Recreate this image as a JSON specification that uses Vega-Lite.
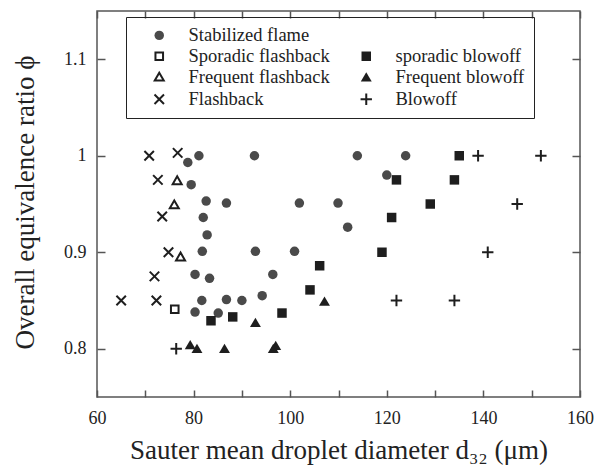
{
  "$schema": "https://vega.github.io/schema/vega-lite/v6.json",
  "width": 483,
  "height": 386,
  "autosize": {"type": "none"},
  "padding": {"left": 97, "top": 11, "right": 23, "bottom": 71},
  "background": "white",
  "config": {
    "view": {"stroke": "#555", "strokeWidth": 1.5},
    "axis": {
      "labelFont": "Liberation Serif",
      "titleFont": "Liberation Serif",
      "labelFontSize": 18,
      "titleFontSize": 27,
      "titleFontWeight": "normal",
      "labelColor": "#222",
      "titleColor": "#222",
      "grid": false,
      "domain": false,
      "labelFlush": false
    }
  },
  "data": {
    "values": [
      {"d": 81.1, "phi": 1.0, "s": "Stabilized flame"},
      {"d": 92.6, "phi": 1.0, "s": "Stabilized flame"},
      {"d": 78.8, "phi": 0.993, "s": "Stabilized flame"},
      {"d": 79.5, "phi": 0.970, "s": "Stabilized flame"},
      {"d": 82.6, "phi": 0.953, "s": "Stabilized flame"},
      {"d": 86.8, "phi": 0.951, "s": "Stabilized flame"},
      {"d": 82.0, "phi": 0.936, "s": "Stabilized flame"},
      {"d": 82.8, "phi": 0.918, "s": "Stabilized flame"},
      {"d": 81.8, "phi": 0.901, "s": "Stabilized flame"},
      {"d": 92.8, "phi": 0.901, "s": "Stabilized flame"},
      {"d": 80.3, "phi": 0.877, "s": "Stabilized flame"},
      {"d": 83.3, "phi": 0.873, "s": "Stabilized flame"},
      {"d": 81.7, "phi": 0.850, "s": "Stabilized flame"},
      {"d": 86.8, "phi": 0.851, "s": "Stabilized flame"},
      {"d": 90.0, "phi": 0.850, "s": "Stabilized flame"},
      {"d": 94.2, "phi": 0.855, "s": "Stabilized flame"},
      {"d": 80.3, "phi": 0.838, "s": "Stabilized flame"},
      {"d": 85.1, "phi": 0.837, "s": "Stabilized flame"},
      {"d": 101.9, "phi": 0.951, "s": "Stabilized flame"},
      {"d": 109.9, "phi": 0.951, "s": "Stabilized flame"},
      {"d": 113.9, "phi": 1.0, "s": "Stabilized flame"},
      {"d": 111.9, "phi": 0.926, "s": "Stabilized flame"},
      {"d": 100.9, "phi": 0.901, "s": "Stabilized flame"},
      {"d": 96.4, "phi": 0.877, "s": "Stabilized flame"},
      {"d": 123.9, "phi": 1.0, "s": "Stabilized flame"},
      {"d": 120.0, "phi": 0.980, "s": "Stabilized flame"},
      {"d": 76.1, "phi": 0.841, "s": "Sporadic flashback"},
      {"d": 76.6, "phi": 0.974, "s": "Frequent flashback"},
      {"d": 76.0, "phi": 0.949, "s": "Frequent flashback"},
      {"d": 77.3, "phi": 0.895, "s": "Frequent flashback"},
      {"d": 70.8, "phi": 1.0, "s": "Flashback"},
      {"d": 76.7, "phi": 1.003, "s": "Flashback"},
      {"d": 72.6, "phi": 0.975, "s": "Flashback"},
      {"d": 73.5, "phi": 0.937, "s": "Flashback"},
      {"d": 74.8, "phi": 0.9, "s": "Flashback"},
      {"d": 71.9, "phi": 0.875, "s": "Flashback"},
      {"d": 65.0, "phi": 0.85, "s": "Flashback"},
      {"d": 72.3, "phi": 0.85, "s": "Flashback"},
      {"d": 83.6, "phi": 0.829, "s": "sporadic blowoff"},
      {"d": 88.1, "phi": 0.833, "s": "sporadic blowoff"},
      {"d": 98.3, "phi": 0.837, "s": "sporadic blowoff"},
      {"d": 104.1, "phi": 0.861, "s": "sporadic blowoff"},
      {"d": 106.1, "phi": 0.886, "s": "sporadic blowoff"},
      {"d": 135.0, "phi": 1.0, "s": "sporadic blowoff"},
      {"d": 122.0, "phi": 0.975, "s": "sporadic blowoff"},
      {"d": 134.0, "phi": 0.975, "s": "sporadic blowoff"},
      {"d": 129.0, "phi": 0.95, "s": "sporadic blowoff"},
      {"d": 121.0, "phi": 0.936, "s": "sporadic blowoff"},
      {"d": 119.0, "phi": 0.9, "s": "sporadic blowoff"},
      {"d": 79.3, "phi": 0.804, "s": "Frequent blowoff"},
      {"d": 80.7, "phi": 0.8, "s": "Frequent blowoff"},
      {"d": 86.4, "phi": 0.8, "s": "Frequent blowoff"},
      {"d": 92.8, "phi": 0.827, "s": "Frequent blowoff"},
      {"d": 107.1, "phi": 0.849, "s": "Frequent blowoff"},
      {"d": 96.5, "phi": 0.8, "s": "Frequent blowoff"},
      {"d": 97.0, "phi": 0.803, "s": "Frequent blowoff"},
      {"d": 76.4, "phi": 0.8, "s": "Blowoff"},
      {"d": 138.9, "phi": 1.0, "s": "Blowoff"},
      {"d": 151.9, "phi": 1.0, "s": "Blowoff"},
      {"d": 147.0, "phi": 0.95, "s": "Blowoff"},
      {"d": 140.9, "phi": 0.9, "s": "Blowoff"},
      {"d": 122.0, "phi": 0.85, "s": "Blowoff"},
      {"d": 134.0, "phi": 0.85, "s": "Blowoff"}
    ]
  },
  "layer": [
    {
      "mark": {"type": "point", "opacity": 1, "strokeWidth": 2, "size": 90},
      "encoding": {
        "x": {
          "field": "d", "type": "quantitative",
          "scale": {"domain": [60, 160], "nice": false, "zero": false},
          "title": "Sauter mean droplet diameter d₃₂ (μm)",
          "axis": {
            "orient": "bottom",
            "values": [60, 70, 80, 90, 100, 110, 120, 130, 140, 150, 160],
            "labelExpr": "datum.value % 20 === 0 ? datum.label : ''",
            "ticks": true,
            "tickColor": "#555",
            "tickWidth": 1.5,
            "tickSize": -7,
            "labelPadding": 19,
            "titleY": 61,
            "titleBaseline": "alphabetic"
          }
        },
        "y": {
          "field": "phi", "type": "quantitative",
          "scale": {"domain": [0.75, 1.15], "nice": false, "zero": false},
          "title": "Overall equivalence ratio ϕ",
          "axis": {
            "orient": "left",
            "values": [0.8, 0.9, 1.0, 1.1],
            "format": ".2~f",
            "ticks": true,
            "tickColor": "#555",
            "tickWidth": 1.5,
            "tickSize": -8,
            "labelPadding": 19,
            "titleX": -64,
            "titleY": 191,
            "titleAngle": -90,
            "titleBaseline": "alphabetic"
          }
        },
        "shape": {
          "field": "s", "type": "nominal",
          "scale": {
            "domain": ["Stabilized flame", "Sporadic flashback", "Frequent flashback", "Flashback", " ", "sporadic blowoff", "Frequent blowoff", "Blowoff"],
            "range": ["circle", "M-0.8,-0.8L0.8,-0.8L0.8,0.8L-0.8,0.8Z", "M0,-0.95L0.95,0.7L-0.95,0.7Z", "M-1,-1L1,1M-1,1L1,-1", "circle", "square", "M0,-1.05L1.15,0.9L-1.15,0.9Z", "M-1.2,0L1.2,0M0,-1.2L0,1.2"]
          },
          "legend": {
            "orient": "none", "legendX": 29, "legendY": 6, "columns": 2, "title": null,
            "labelFont": "Liberation Serif", "labelFontSize": 18.5, "labelColor": "#222",
            "symbolSize": 90, "symbolStrokeWidth": 2, "symbolOpacity": 1,
            "padding": 9, "symbolOffset": 15, "labelOffset": 20, "columnPadding": 12, "rowPadding": 2,
            "strokeColor": "#222", "labelLimit": 300
          }
        },
        "fill": {
          "field": "s", "type": "nominal",
          "scale": {
            "domain": ["Stabilized flame", "Sporadic flashback", "Frequent flashback", "Flashback", " ", "sporadic blowoff", "Frequent blowoff", "Blowoff"],
            "range": ["#4a4a4a", "transparent", "transparent", "transparent", "transparent", "#1e1e1e", "#1e1e1e", "transparent"]
          },
          "legend": {
            "orient": "none", "legendX": 29, "legendY": 6, "columns": 2, "title": null,
            "labelFont": "Liberation Serif", "labelFontSize": 18.5, "labelColor": "#222",
            "symbolSize": 90, "symbolStrokeWidth": 2, "symbolOpacity": 1,
            "padding": 9, "symbolOffset": 15, "labelOffset": 20, "columnPadding": 12, "rowPadding": 2,
            "strokeColor": "#222", "labelLimit": 300
          }
        },
        "stroke": {
          "field": "s", "type": "nominal",
          "scale": {
            "domain": ["Stabilized flame", "Sporadic flashback", "Frequent flashback", "Flashback", " ", "sporadic blowoff", "Frequent blowoff", "Blowoff"],
            "range": ["transparent", "#1e1e1e", "#1e1e1e", "#1e1e1e", "transparent", "transparent", "transparent", "#1e1e1e"]
          },
          "legend": {
            "orient": "none", "legendX": 29, "legendY": 6, "columns": 2, "title": null,
            "labelFont": "Liberation Serif", "labelFontSize": 18.5, "labelColor": "#222",
            "symbolSize": 90, "symbolStrokeWidth": 2, "symbolOpacity": 1,
            "padding": 9, "symbolOffset": 15, "labelOffset": 20, "columnPadding": 12, "rowPadding": 2,
            "strokeColor": "#222", "labelLimit": 300
          }
        }
      }
    },
    {
      "mark": {"type": "point", "opacity": 0},
      "encoding": {
        "x": {
          "field": "d", "type": "quantitative",
          "scale": {"domain": [60, 160], "nice": false, "zero": false},
          "axis": {
            "orient": "top", "title": null, "labels": false, "ticks": true,
            "values": [60, 70, 80, 90, 100, 110, 120, 130, 140, 150, 160],
            "tickColor": "#555", "tickWidth": 1.5,
            "tickSize": -7
          }
        },
        "y": {
          "field": "phi", "type": "quantitative",
          "scale": {"domain": [0.75, 1.15], "nice": false, "zero": false},
          "axis": {
            "orient": "right", "title": null, "labels": false, "ticks": true,
            "values": [0.8, 0.9, 1.0, 1.1],
            "tickColor": "#555", "tickWidth": 1.5,
            "tickSize": -8
          }
        }
      }
    }
  ],
  "resolve": {"axis": {"x": "independent", "y": "independent"}}
}
